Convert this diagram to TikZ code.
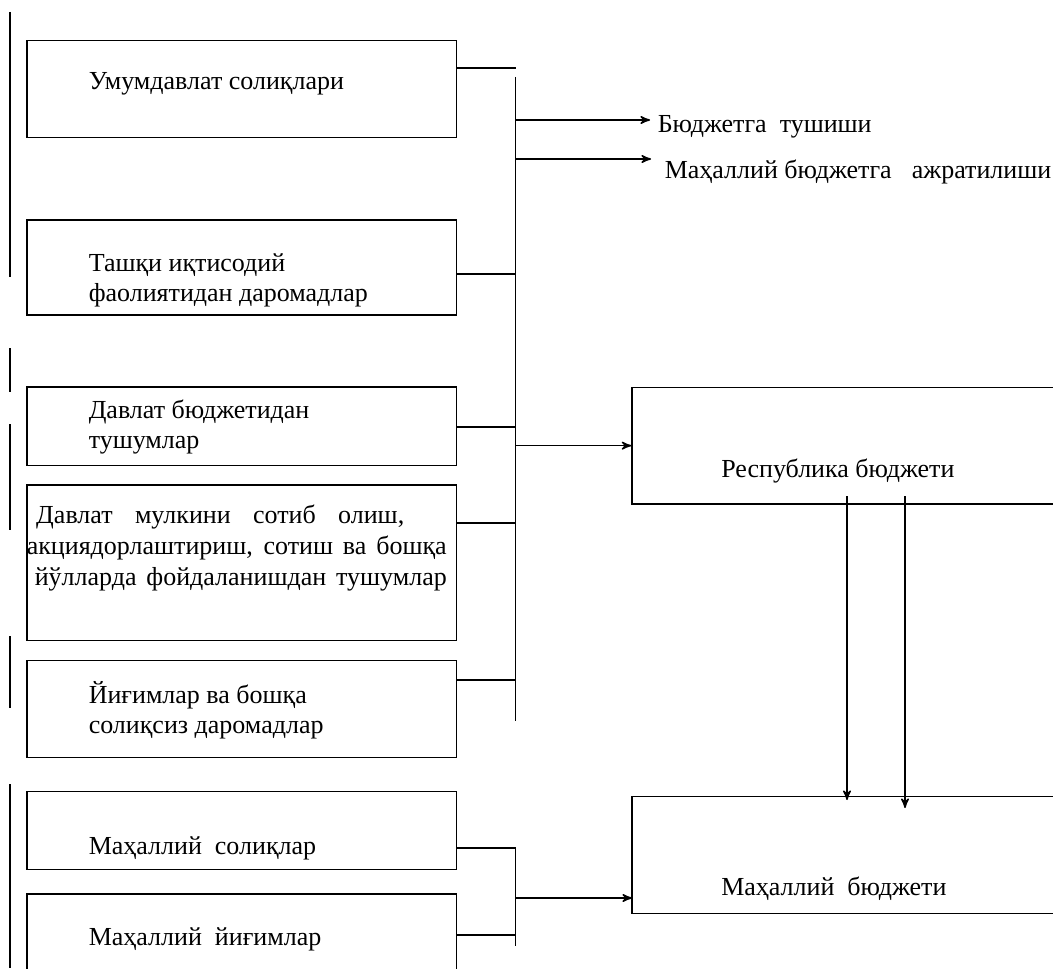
\documentclass[tikz,border=0pt]{standalone}
\usepackage{fontspec}
\setmainfont{Liberation Serif}
\usetikzlibrary{arrows}

\begin{document}
\begin{tikzpicture}[x=0.5pt,y=-0.5pt,>=stealth',line width=0.75pt,
    box/.style={draw,rectangle,inner sep=0pt,minimum width=214.85pt},
    bigbox/.style={draw,rectangle,inner sep=0pt,minimum width=224pt,minimum height=58.5pt},
    txt/.style={inner sep=0pt,anchor=base west,align=left,font=\fontsize{13}{14.75}\selectfont}]
    \useasboundingbox (0,0) rectangle (1053,968);
    \clip (0,0) rectangle (1053,968);
    % left column
    \node[box,minimum height=48.5pt] (b1) at (241.85,89.2) {};
    \node[box,minimum height=47.5pt] (b2) at (241.85,267.5) {};
    \node[box,minimum height=39.35pt] (b3) at (241.85,426.35) {};
    \node[box,minimum height=77.85pt] (b4) at (241.85,562.85) {};
    \node[box,minimum height=48.5pt] (b5) at (241.85,709.2) {};
    \node[box,minimum height=39pt] (b6) at (241.85,830.7) {};
    \node[box,minimum height=48pt] (b7) at (241.85,942) {};
    \node[txt] (t1) at (88,90) {Умумдавлат солиқлари};
    \node[txt] (t2) at (88,301) {Ташқи\ иқтисодий\\фаолиятидан\ даромадлар};
    \node[txt] (t3) at (88,448) {Давлат\ бюджетидан\\тушумлар};
    \node[txt,font=\fontsize{13}{15.5}\selectfont] (t4) at (26,585.5)
        {\hspace*{4.75pt}\makebox[184pt][s]{Давлат мулкини сотиб олиш,}\\
         \makebox[210pt][s]{акциядорлаштириш, сотиш ва бошқа}\\
         \hspace*{4pt}\makebox[206pt][s]{йўлларда фойдаланишдан тушумлар}};
    \node[txt] (t5) at (88,733) {Йиғимлар ва\ бошқа\\солиқсиз даромадлар};
    \node[txt] (t6) at (88,854.5) {Маҳаллий\ \ солиқлар};
    \node[txt] (t7) at (88,945.7) {Маҳаллий\ \ йиғимлар};
    % budgets
    \node[bigbox,minimum height=58.35pt] (rep) at (856,445.65) {};
    \node[bigbox] (loc) at (856,855) {};
    \node[txt] (tr) at (720.5,477) {Республика бюджети};
    \node[txt] (tl) at (720.5,895) {Маҳаллий\ \ бюджети};
    \node[txt] (l1) at (657,133) {Бюджетга\ \ тушиши};
    \node[txt] (l2) at (664,178) {Маҳаллий\ бюджетга\hspace{10pt}ажратилиши};
    % stray margin lines
    \foreach \a/\b in {12/277,348/392,424/530,636/708,784/968}
        \draw[line width=1pt] (9.5,\a) -- (9.5,\b);
    % upper bus
    \coordinate (bt) at (515.5,77);
    \coordinate (bb) at (515.5,721);
    \coordinate (j1) at (515.5,68);
    \coordinate (a1) at (650,120);
    \coordinate (a2) at (651,159);
    \draw (bt) -- (bb);
    \draw (b1.east |- j1) -- (j1);
    \foreach \b/\y in {b2/274,b3/427,b4/523,b5/680}
        \draw (\b.east |- 0,\y) -- (bt |- 0,\y);
    \draw[->] (bt |- a1) -- (a1);
    \draw[->] (bt |- a2) -- (a2);
    \draw[->] (bt |- rep.west) -- (rep.west);
    % lower bus
    \coordinate (ct) at (515.5,848);
    \coordinate (cb) at (515.5,946);
    \coordinate (a3) at (632,898);
    \draw (ct) -- (cb);
    \draw (b6.east |- ct) -- (ct);
    \draw (b7.east |- 0,935) -- (cb |- 0,935);
    \draw[->] (ct |- a3) -- (a3);
    % transfers
    \coordinate (d1) at (847,496);
    \coordinate (e1) at (847,800);
    \coordinate (d2) at (905,496);
    \coordinate (e2) at (905,808);
    \draw[->] (d1) -- (e1);
    \draw[->] (d2) -- (e2);
\end{tikzpicture}
\end{document}
